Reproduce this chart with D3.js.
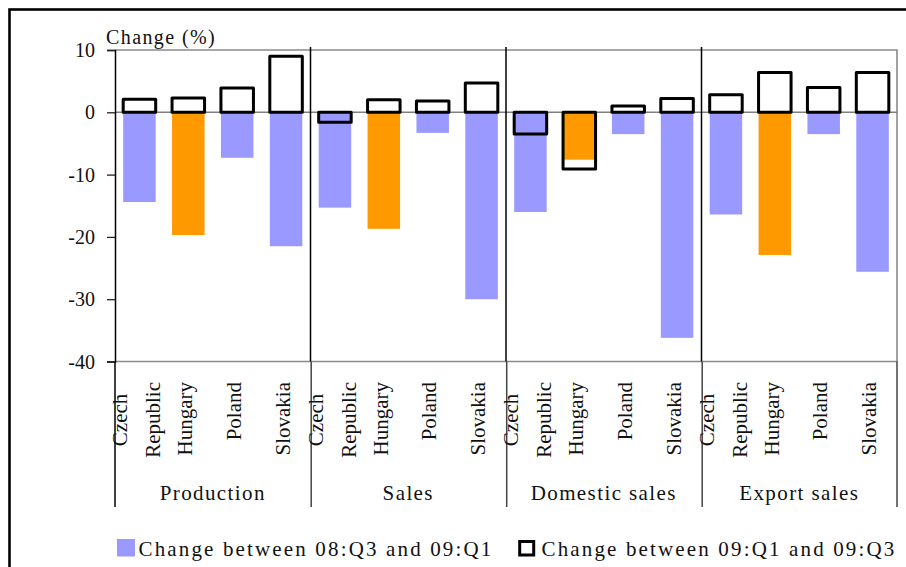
<!DOCTYPE html>
<html>
<head>
<meta charset="utf-8">
<script src="https://cdn.jsdelivr.net/npm/d3@7"></script>
<style>
  html, body { margin: 0; padding: 0; background: #fff; }
  svg { display: block; }
</style>
</head>
<body>
<svg id="chart" width="906" height="567"></svg>
<script>
// ---- data ----
const groups = ["Production", "Sales", "Domestic sales", "Export sales"];
const countries = ["Czech Republic", "Hungary", "Poland", "Slovakia"];
const highlightCountry = "Hungary";
// Change between 08:Q3 and 09:Q1 (group by group, countries in order)
const change0803to0901 = [
  -14.4, -19.7, -7.3, -21.5,
  -15.3, -18.7, -3.3, -30.0,
  -16.0, -7.6, -3.5, -36.2,
  -16.4, -22.9, -3.5, -25.6
];
// Change between 09:Q1 and 09:Q3
const change0901to0903 = [
  2.1, 2.3, 3.9, 9.0,
  -1.6, 2.0, 1.8, 4.7,
  -3.5, -9.1, 1.0, 2.2,
  2.8, 6.4, 4.0, 6.4
];
const yTicks = [10, 0, -10, -20, -30, -40];
const seriesNames = ["Change between 08:Q3 and 09:Q1", "Change between 09:Q1 and 09:Q3"];
const yTitle = "Change (%)";

// ---- layout ----
const FONT = "Liberation Serif";
const svg = d3.select("#chart");
const pLeft = 115, pRight = 897, pTop = 50, pBottom = 361.5;
const blue = "#9999FF", orange = "#FF9900";

function txt(sel) {
  return sel.style("font-family", FONT).style("fill", "#111");
}

const rows = [];
groups.forEach((g, gi) => countries.forEach((c, ci) => {
  const i = gi * countries.length + ci;
  rows.push({ key: g + "|" + c, group: g, country: c, v1: change0803to0901[i], v2: change0901to0903[i] });
}));

const x = d3.scaleBand().domain(rows.map(d => d.key)).range([pLeft, pRight])
  .paddingInner(0.335).paddingOuter(0.1675);
const y = d3.scaleLinear().domain([-40, 10]).range([pBottom, pTop]);

// outer border
svg.append("rect").attr("x", 9.5).attr("y", 9.5).attr("width", 920).attr("height", 580)
  .attr("fill", "none").attr("stroke", "#000").attr("stroke-width", 2.6);

// plot frame (gray)
svg.append("path")
  .attr("d", `M${pLeft},${y(10)}H${pRight}V${y(-40)}H${pLeft}`)
  .attr("fill", "none").attr("stroke", "#8a8a8a").attr("stroke-width", 1.6);

// blue / orange bars
svg.append("g").selectAll("rect").data(rows).join("rect")
  .attr("x", d => x(d.key))
  .attr("width", x.bandwidth())
  .attr("y", d => y(Math.max(0, d.v1)))
  .attr("height", d => Math.abs(y(d.v1) - y(0)))
  .attr("fill", d => d.country === highlightCountry ? orange : blue);

// zero line
svg.append("line").attr("x1", pLeft).attr("x2", pRight).attr("y1", y(0)).attr("y2", y(0))
  .attr("stroke", "#808080").attr("stroke-width", 1.6);

// outlined bars
svg.append("g").selectAll("rect").data(rows).join("rect")
  .attr("x", d => x(d.key))
  .attr("width", x.bandwidth())
  .attr("y", d => y(Math.max(0, d.v2)))
  .attr("height", d => Math.abs(y(d.v2) - y(0)))
  .attr("fill", "none").attr("stroke", "#000").attr("stroke-width", 3)
  .attr("stroke-linejoin", "round");

// group separators
const sepX = groups.map((g, gi) => x(g + "|" + countries[0]) - x.step() * x.paddingOuter());
sepX.push(pRight);
const sepG = svg.append("g");
sepX.forEach((sx, i) => {
  const inner = i > 0 && i < groups.length;
  if (inner) {
    sepG.append("line").attr("x1", sx).attr("x2", sx).attr("y1", 47).attr("y2", pBottom)
      .attr("stroke", "#000").attr("stroke-width", 1.5);
  }
  const bx = sx + (inner ? 0.7 : 0);
  sepG.append("line").attr("x1", bx).attr("x2", bx)
    .attr("y1", pBottom).attr("y2", 507)
    .attr("stroke", i === 0 ? "#000" : "#444").attr("stroke-width", 1.5);
});

// y axis
const yAxis = d3.axisLeft(y).tickValues(yTicks).tickSize(8).tickPadding(12);
const ga = svg.append("g").attr("transform", `translate(${pLeft},0)`).call(yAxis);
ga.select(".domain").attr("stroke", "#000").attr("stroke-width", 1.5);
ga.selectAll(".tick line").attr("stroke", "#222").attr("stroke-width", 1.3);
txt(ga.selectAll(".tick text")).attr("font-size", 20)
  .attr("dy", "0.33em")
  .text(d => d < 0 ? "-" + Math.abs(d) : String(d));

// y title
txt(svg.append("text")).attr("x", 106).attr("y", 44).attr("font-size", 20).attr("letter-spacing", 1.4)
  .text(yTitle);

// category labels (rotated)
const labG = svg.append("g");
rows.forEach(d => {
  const cx = x(d.key) + x.bandwidth() / 2;
  const words = d.country.split(" ");
  if (words.length === 1) {
    txt(labG.append("text")).attr("transform", `translate(${cx},382) rotate(-90)`)
      .attr("text-anchor", "end").attr("dy", "0.18em").attr("font-size", 21).text(d.country);
  } else {
    const lines = words.map(w => txt(labG.append("text"))
      .attr("font-size", 21).attr("dy", "0.18em").text(w));
    const maxLen = d3.max(lines, t => t.node().getComputedTextLength());
    const n = lines.length;
    lines.forEach((t, i) => {
      const off = (i - (n - 1) / 2) * 33 + 0.3;
      t.attr("text-anchor", "middle")
        .attr("transform", `translate(${cx + off},${382 + maxLen / 2}) rotate(-90)`);
    });
  }
});

// group labels
groups.forEach((g, gi) => {
  const cx = (sepX[gi] + sepX[gi + 1]) / 2;
  txt(svg.append("text")).attr("x", cx).attr("y", 500).attr("text-anchor", "middle")
    .attr("font-size", 21).attr("letter-spacing", 1.4).text(g);
});

// legend
const leg = svg.append("g");
leg.append("rect").attr("x", 117).attr("y", 539).attr("width", 18).attr("height", 17.5).attr("fill", blue);
txt(leg.append("text")).attr("x", 138.5).attr("y", 556).attr("font-size", 21).attr("letter-spacing", 2.15).text(seriesNames[0]);
leg.append("rect").attr("x", 519.7).attr("y", 541.5).attr("width", 14).attr("height", 13.5)
  .attr("fill", "none").attr("stroke", "#000").attr("stroke-width", 3);
txt(leg.append("text")).attr("x", 541.5).attr("y", 556).attr("font-size", 21).attr("letter-spacing", 2.15).text(seriesNames[1]);
</script>
</body>
</html>
